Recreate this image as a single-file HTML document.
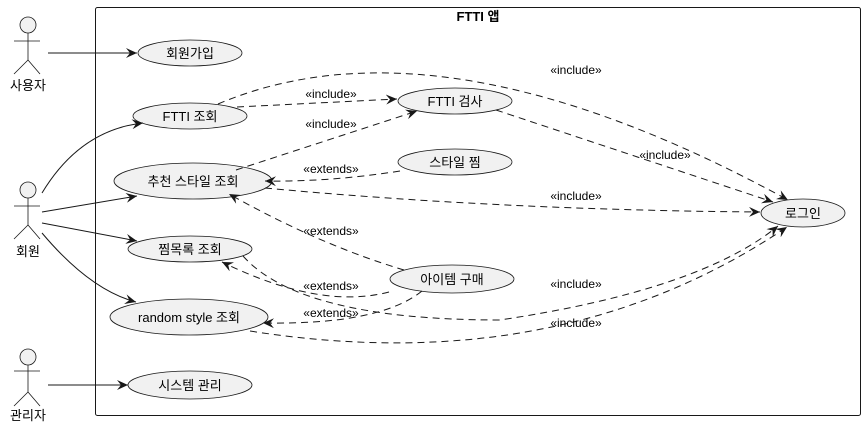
<!DOCTYPE html>
<html><head><meta charset="utf-8"><style>
body{margin:0;background:#fff}
svg{display:block}
text{font-family:"Liberation Sans","Noto Sans CJK KR",sans-serif;fill:#000}
</style></head><body>
<svg width="866" height="429" viewBox="0 0 866 429" xmlns="http://www.w3.org/2000/svg">
<defs>
<marker id="a" viewBox="0 0 12 10" refX="11" refY="5" markerWidth="12" markerHeight="10" markerUnits="userSpaceOnUse" orient="auto">
<path d="M0,0 L11,5 L0,10 L4,5 Z" fill="#181818"/>
</marker>
</defs>
<rect x="95.5" y="7.5" width="765" height="408" rx="2" fill="none" stroke="#181818" stroke-width="1"/>
<text x="478" y="21" font-size="13" font-weight="bold" text-anchor="middle">FTTI 앱</text>

<g stroke="#181818" fill="#f1f1f1" stroke-width="0.8">
<!-- actors -->
<circle cx="28" cy="25" r="8"/>
<line x1="28" y1="33" x2="28" y2="60"/><line x1="14" y1="41" x2="40" y2="41"/>
<line x1="28" y1="60" x2="14" y2="74" fill="none"/><line x1="28" y1="60" x2="40" y2="74"/>
<circle cx="28" cy="190" r="8"/>
<line x1="28" y1="198" x2="28" y2="225"/><line x1="14" y1="206" x2="40" y2="206"/>
<line x1="28" y1="225" x2="14" y2="239"/><line x1="28" y1="225" x2="40" y2="239"/>
<circle cx="28" cy="357" r="8"/>
<line x1="28" y1="365" x2="28" y2="392"/><line x1="14" y1="371" x2="40" y2="371"/>
<line x1="28" y1="392" x2="14" y2="406"/><line x1="28" y1="392" x2="40" y2="406"/>
<!-- usecases -->
<ellipse cx="190" cy="53" rx="52" ry="13"/>
<ellipse cx="190" cy="116" rx="57" ry="13"/>
<ellipse cx="193" cy="181" rx="79" ry="18"/>
<ellipse cx="190" cy="249" rx="62" ry="13"/>
<ellipse cx="189" cy="317" rx="79" ry="18"/>
<ellipse cx="190" cy="385" rx="62" ry="14"/>
<ellipse cx="455" cy="101" rx="57" ry="13"/>
<ellipse cx="455" cy="162" rx="57" ry="13"/>
<ellipse cx="452" cy="279" rx="62" ry="14"/>
<ellipse cx="803" cy="213" rx="42" ry="14"/>
</g>
<g font-size="13" text-anchor="middle">
<text x="28" y="90">사용자</text>
<text x="28" y="256">회원</text>
<text x="28" y="420">관리자</text>
<text x="190" y="58">회원가입</text>
<text x="190" y="121">FTTI 조회</text>
<text x="193" y="186">추천 스타일 조회</text>
<text x="190" y="254">찜목록 조회</text>
<text x="189" y="322">random style 조회</text>
<text x="190" y="390">시스템 관리</text>
<text x="455" y="106">FTTI 검사</text>
<text x="455" y="167">스타일 찜</text>
<text x="452" y="284">아이템 구매</text>
<text x="803" y="218">로그인</text>
</g>
<!-- solid -->
<g stroke="#181818" fill="none" stroke-width="1" marker-end="url(#a)">
<line x1="48" y1="53" x2="137" y2="53"/>
<line x1="48" y1="385" x2="128" y2="385"/>
<path d="M42,193 Q80,130 143,123"/>
<path d="M42,212 L137,196"/>
<path d="M42,223 L137,241"/>
<path d="M42,233 Q90,290 136,302"/>
</g>
<!-- dashed -->
<g stroke="#181818" fill="none" stroke-width="1" stroke-dasharray="7,5" marker-end="url(#a)">
<path d="M237,107 L397,99"/>
<path d="M218,104 Q440,10 788,200"/>
<path d="M236,170 L417,111"/>
<path d="M400,171 Q330,182 265,181"/>
<path d="M265,188 Q500,210 760,212"/>
<path d="M496,110 L773,202"/>
<path d="M404,270 Q320,245 229,194"/>
<path d="M389,292 Q320,310 222,262"/>
<path d="M422,291 Q380,325 263,323"/>
<path d="M243,256 Q300,320 500,320 Q700,290 778,226"/>
<path d="M250,331 Q560,380 787,227"/>
</g>
<g font-size="12" text-anchor="middle">
<text x="331" y="98">«include»</text>
<text x="576" y="74">«include»</text>
<text x="331" y="128">«include»</text>
<text x="665" y="159">«include»</text>
<text x="331" y="173">«extends»</text>
<text x="576" y="200">«include»</text>
<text x="331" y="235">«extends»</text>
<text x="331" y="290">«extends»</text>
<text x="576" y="288">«include»</text>
<text x="331" y="317">«extends»</text>
<text x="576" y="327">«include»</text>
</g>
</svg>
</body></html>
